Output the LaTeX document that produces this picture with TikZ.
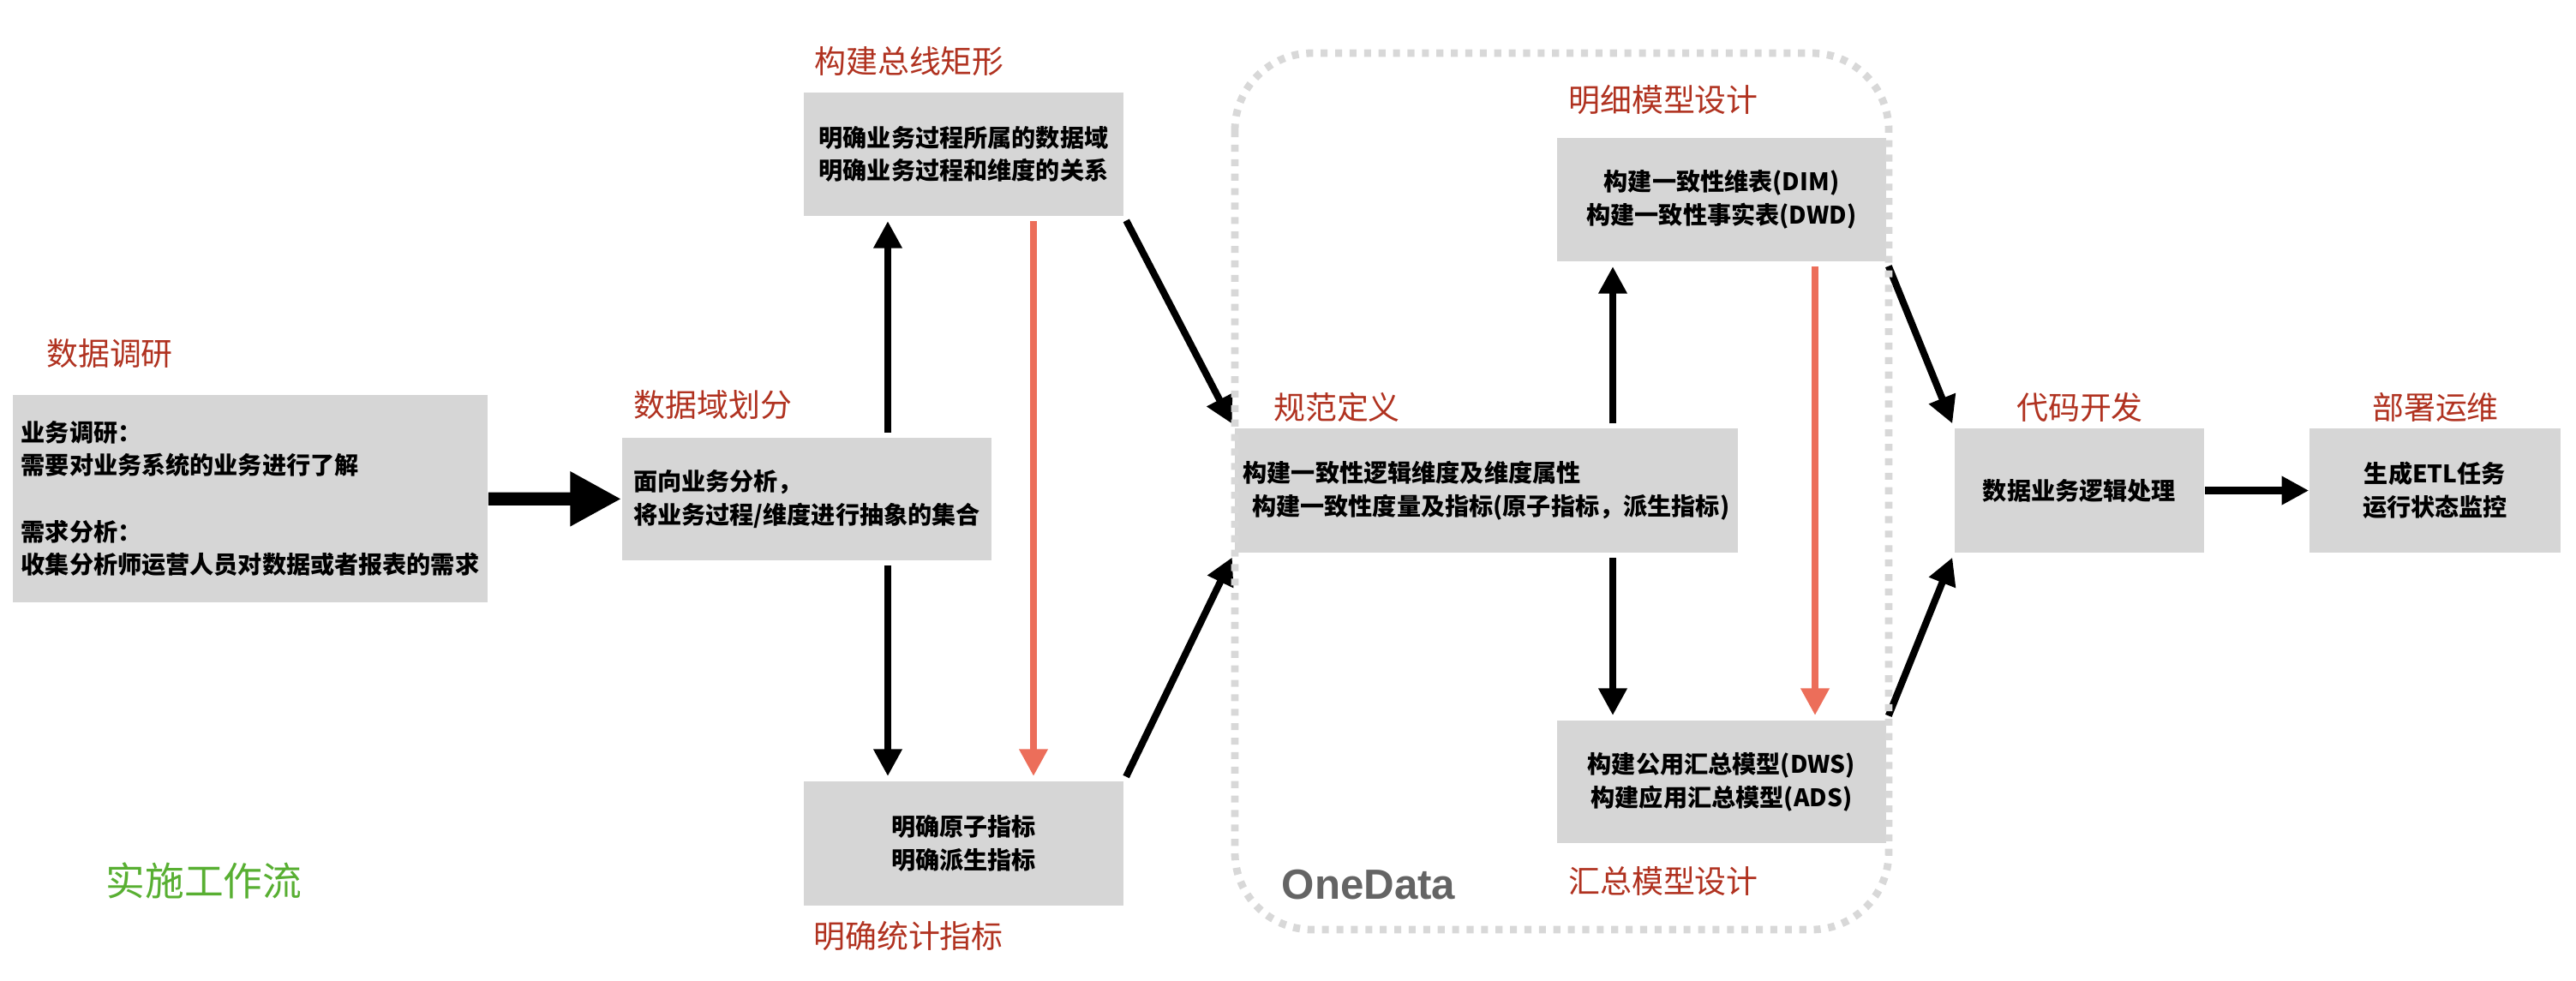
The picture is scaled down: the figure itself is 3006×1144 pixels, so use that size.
\documentclass[tikz,border=0pt]{standalone}
\usepackage{fontspec}
\setmainfont{Noto Sans CJK SC}
\newfontfamily\latinfont{Liberation Sans}
\usetikzlibrary{arrows.meta}

\definecolor{boxgray}{RGB}{214,214,214}
\definecolor{tagred}{RGB}{176,50,32}
\definecolor{salmon}{RGB}{236,110,90}
\definecolor{flowgreen}{RGB}{88,175,50}
\definecolor{dotgray}{RGB}{216,216,216}
\definecolor{textgray}{RGB}{100,100,100}

\tikzset{
  box/.style={fill=boxgray, inner sep=0pt, align=center, font=\fontsize{8}{11}\selectfont\bfseries},
  tag/.style={text=tagred, inner sep=0pt, font=\fontsize{10.5}{12}\selectfont},
  flow/.style={line width=2.3pt, -{Triangle[length=9pt,width=9pt]}, shorten >=1.5pt, shorten <=1.5pt},
  redflow/.style={flow, salmon},
  bigflow/.style={line width=4.3pt, -{Triangle[length=17pt,width=17pt]}},
  onedata/.style={line width=2.5pt, dotgray, dash pattern=on 2.3pt off 2.5pt, rounded corners=0.9cm}
}

\begin{document}
\begin{tikzpicture}[x=0.01cm, y=-0.01cm]
\useasboundingbox (0,0) rectangle (3006,1144);

\node[box, align=left, minimum width=5.54cm, minimum height=2.42cm] (research) at (292,582) {业务调研：\\需要对业务系统的业务进行了解\\[11pt]需求分析：\\收集分析师运营人员对数据或者报表的需求};
\node[box, align=left, minimum width=4.31cm, minimum height=1.43cm] (domain) at (941.5,582.5) {面向业务分析，\\将业务过程/维度进行抽象的集合};
\node[box, minimum width=3.73cm, minimum height=1.44cm] (bus) at (1124.5,180) {明确业务过程所属的数据域\\明确业务过程和维度的关系};
\node[box, minimum width=3.73cm, minimum height=1.45cm] (metric) at (1124.5,984.5) {明确原子指标\\明确派生指标};
\node[box, align=left, minimum width=5.87cm, minimum height=1.45cm] (spec) at (1734.5,572.5) {构建一致性逻辑维度及维度属性\\\hspace*{3pt}构建一致性度量及指标(原子指标，派生指标)};
\node[box, minimum width=3.84cm, minimum height=1.44cm] (detail) at (2009,233) {构建一致性维表(DIM)\\构建一致性事实表(DWD)};
\node[box, minimum width=3.84cm, minimum height=1.43cm] (summary) at (2009,912.5) {构建公用汇总模型(DWS)\\构建应用汇总模型(ADS)};
\node[box, minimum width=2.91cm, minimum height=1.45cm] (code) at (2426.5,572.5) {数据业务逻辑处理};
\node[box, minimum width=2.93cm, minimum height=1.45cm] (deploy) at (2841.5,572.5) {生成ETL任务\\运行状态监控};

% titles
\node[tag] (research t) at (128,413) {数据调研};
\node[tag] (domain t) at (832,472) {数据域划分};
\node[tag] (bus t) at (1061,72) {构建总线矩形};
\node[tag] (metric t) at (1060,1092) {明确统计指标};
\node[tag] (spec t) at (1560,475) {规范定义};
\node[tag] (detail t) at (1941,117) {明细模型设计};
\node[tag] (summary t) at (1941,1028) {汇总模型设计};
\node[tag] (code t) at (2427,475) {代码开发};
\node[tag] (deploy t) at (2842,475) {部署运维};
\node[inner sep=0pt, text=flowgreen, font=\fontsize{13}{15}\selectfont] (workflow) at (238,1028) {实施工作流};
\node[inner sep=0pt, text=textgray, font=\latinfont\fontsize{14}{16}\selectfont\bfseries] (onedata t) at (1597,1033) {OneData};

\coordinate (colA) at (1036,0);
\coordinate (colB) at (1206,0);
\coordinate (colC) at (1882,0);
\coordinate (colD) at (2118,0);

\draw[bigflow] (research) -- (domain);
\draw[flow] (domain.north -| colA) -- (bus.south -| colA);
\draw[flow] (domain.south -| colA) -- (metric.north -| colA);
\draw[redflow] (bus.south -| colB) -- (metric.north -| colB);
\draw[flow] (bus.south east) -- (spec.north west);
\draw[flow] (metric.north east) -- (spec.south west);
\draw[flow] (spec.north -| colC) -- (detail.south -| colC);
\draw[flow] (spec.south -| colC) -- (summary.north -| colC);
\draw[redflow] (detail.south -| colD) -- (summary.north -| colD);
\draw[flow] (detail.south east) -- (code.north west);
\draw[flow] (summary.north east) -- (code.south west);
\draw[flow, shorten >=0pt, shorten <=0pt] (code) -- (deploy);

\draw[onedata] (1441,62) rectangle (2204,1085);

\end{tikzpicture}
\end{document}
